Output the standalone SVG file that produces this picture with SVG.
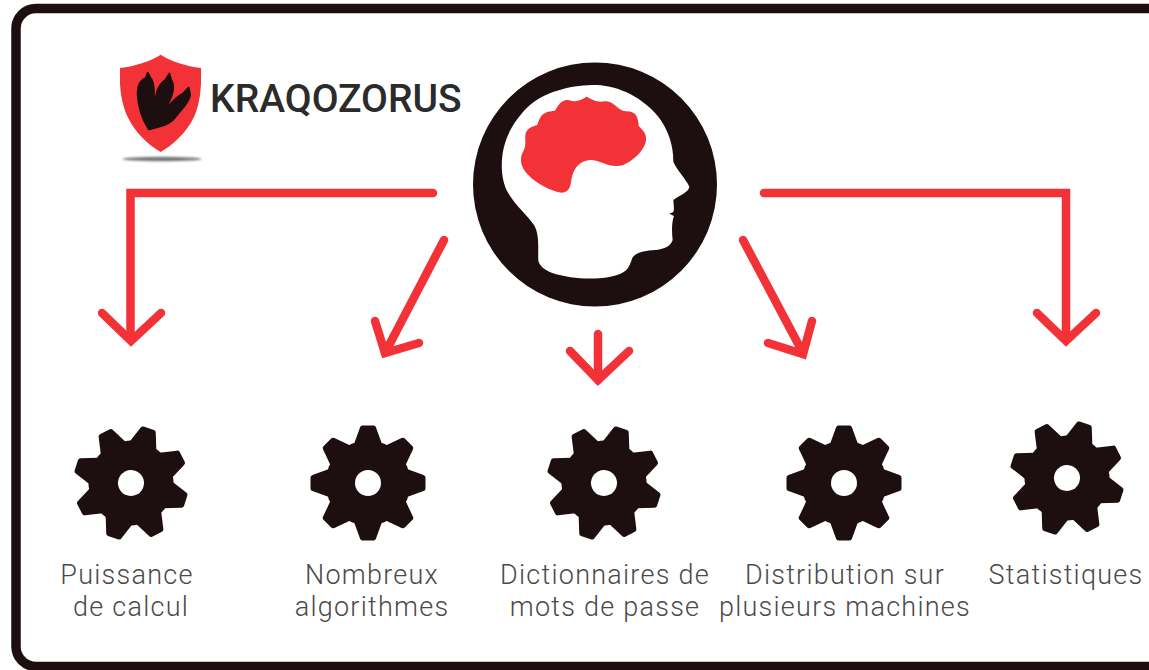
<svg xmlns="http://www.w3.org/2000/svg" width="1149" height="670" viewBox="0 0 1149 670">
<style>
.ink{fill:#1d0f10}
.red{fill:#f23237}
.link{fill:none;stroke:#f23237;stroke-width:8.5;stroke-linecap:round;stroke-linejoin:miter}
.label{font-family:Roboto,"Liberation Sans",sans-serif;font-weight:300;font-size:27px;letter-spacing:1.25px;fill:#4a4a4a;text-anchor:middle}
.brand{font-family:Roboto,"Liberation Sans",sans-serif;font-weight:500;font-size:39px;fill:#2b2b2b}
</style>
<defs>
<filter id="soft" x="-20%" y="-200%" width="140%" height="500%"><feGaussianBlur stdDeviation="1.2"/></filter>
<path id="tooth" d="M-14,-39 L-8,-55.500 Q-7.500,-57.500 -5.500,-57.500 L5.500,-57.500 Q7.500,-57.500 8,-55.500 L14,-39 Z"/>
<g id="gear">
<circle r="42.500" class="ink"/>
<g class="ink">
<use href="#tooth"/><use href="#tooth" transform="rotate(45)"/><use href="#tooth" transform="rotate(90)"/><use href="#tooth" transform="rotate(135)"/><use href="#tooth" transform="rotate(180)"/><use href="#tooth" transform="rotate(225)"/><use href="#tooth" transform="rotate(270)"/><use href="#tooth" transform="rotate(315)"/>
</g>
<circle r="13" fill="#fff"/>
</g>
</defs>
<rect width="1149" height="670" fill="#fff"/>
<rect id="frame" x="16" y="8.500" width="1200" height="658" rx="20" fill="none" stroke="#1d0f10" stroke-width="9.500"/>

<g id="logo">
<ellipse cx="162" cy="159" rx="40" ry="2.200" fill="#777" filter="url(#soft)"/>
<path class="red" transform="translate(100,40) scale(.33333)" d="M182,44 C150,65 105,78 60,84 L60,130 C62,170 70,205 85,235 C105,275 140,312 182,336 C224,312 260,275 280,235 C295,205 301,170 303,130 L303,84 C258,78 214,65 182,44 Z"/>
<path class="ink" stroke="#1d0f10" stroke-width="6" stroke-linejoin="round" transform="translate(100,40) scale(.33333)" d="M147,268 C132,245 115,205 113,160 C113,135 122,120 138,114 L143,98 L151,114 C161,124 164,150 160,192 L165,192 C168,160 174,135 196,120 L208,101 L214,122 C224,137 220,160 205,190 L197,212 C210,194 225,172 248,162 L266,143 L270,165 C267,188 243,208 230,226 C216,248 198,256 147,268 Z"/>
<text class="brand" x="210" y="112">KRAQOZORUS</text>
</g>

<g id="head">
<circle cx="595" cy="184.500" r="122" class="ink"/>
<path fill="#fff" transform="translate(460,50) scale(.33333)" d="M235,632 C233,600 240,555 222,525 C205,500 165,465 145,430 C125,395 122,350 128,310 C135,260 165,205 210,165 C265,120 340,105 410,105 C480,108 550,145 595,200 C625,240 640,285 640,335 C650,360 680,390 688,410 C688,425 660,435 640,450 C640,462 644,475 640,486 L628,491 L642,498 C635,515 635,545 638,570 C632,590 610,598 585,600 C560,602 530,605 518,622 C510,640 510,660 480,672 C430,692 340,690 275,668 C255,660 240,650 235,632 Z"/>
<path class="red" transform="translate(460,50) scale(.33333)" d="M183,325 C185,305 198,300 196,270 C194,240 205,232 232,225 C240,205 240,185 285,182 C295,165 305,148 325,150 C340,155 350,157 380,140 C395,148 410,158 435,154 C460,150 475,185 500,184 C530,184 535,205 536,228 C548,240 560,250 558,270 C555,300 520,332 490,345 C450,358 420,328 390,330 C355,332 340,360 335,385 C332,405 330,428 305,428 C275,425 225,398 205,375 C190,360 182,345 183,325 Z"/>
</g>

<g id="connectors">
<path class="link" d="M433,193 H130.500 V340"/><path class="link" d="M102,313 L131,341 L161,313"/>
<path class="link" d="M444,240 L385,353"/><path class="link" d="M375,321 L385,353 L419,343"/>
<path class="link" d="M598,334 V380"/><path class="link" d="M570,351 L598,380 L629,351"/>
<path class="link" d="M743,240 L803,353"/><path class="link" d="M768,343 L803,354 L812,321"/>
<path class="link" d="M764,193 H1066 V340"/><path class="link" d="M1037,313 L1066,341 L1096,313"/>
</g>

<g id="node-puissance"><use href="#gear" transform="translate(131,483) rotate(18)"/><text class="label" x="127" y="584">Puissance</text><text class="label" x="131" y="616">de calcul</text></g>
<g id="node-algorithmes"><use href="#gear" transform="translate(368,483)"/><text class="label" x="372" y="584">Nombreux</text><text class="label" x="372" y="616">algorithmes</text></g>
<g id="node-dictionnaires"><use href="#gear" transform="translate(604,483) rotate(18)"/><text class="label" x="605" y="584">Dictionnaires de</text><text class="label" x="605" y="616">mots de passe</text></g>
<g id="node-distribution"><use href="#gear" transform="translate(844,483)"/><text class="label" x="845" y="584">Distribution sur</text><text class="label" x="845" y="616">plusieurs machines</text></g>
<g id="node-statistiques"><use href="#gear" transform="translate(1067,478) rotate(18)"/><text class="label" x="1066" y="584">Statistiques</text></g>
</svg>
